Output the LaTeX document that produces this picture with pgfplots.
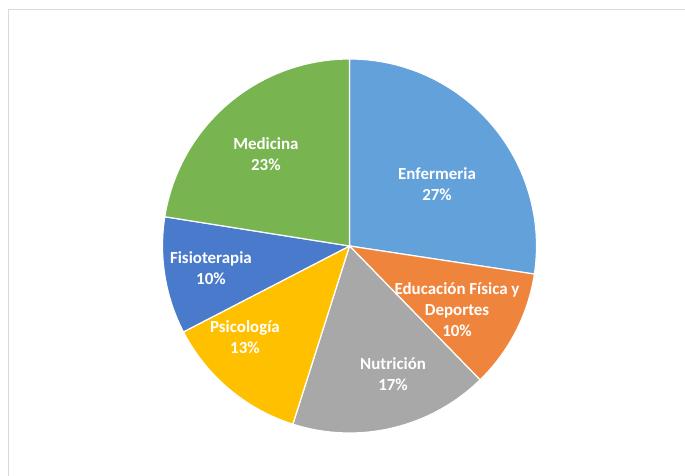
\documentclass[border=0pt]{standalone}
\usepackage{fontspec}
\setmainfont{Carlito}
\usepackage{pgfplots}
\pgfplotsset{compat=1.18}
\definecolor{cEnf}{HTML}{62A1D9}
\definecolor{cEdu}{HTML}{EF853C}
\definecolor{cNut}{HTML}{A8A8A8}
\definecolor{cPsi}{HTML}{FFC000}
\definecolor{cFis}{HTML}{4A7ACB}
\definecolor{cMed}{HTML}{78B44F}
\definecolor{frame}{HTML}{D9D9D9}
\tikzset{lbl/.style={font=\fontsize{17}{21}\selectfont\bfseries, text=white, align=center}}
% slice: cumulative start %, cumulative end %, colour (Excel: starts at 12 o'clock, clockwise)
\newcommand{\slice}[3]{%
  \addplot[fill=#3, draw=white, line width=1.2bp, samples=80, variable=\t,
    domain={90-3.6*(#2)}:{90-3.6*(#1)}] ({cos(t)},{sin(t)}) -- (axis cs:0,0) -- cycle;}
\begin{document}
\begin{tikzpicture}[x=1bp,y=1bp]
\useasboundingbox (0,0) rectangle (685,476);
\draw[frame, line width=1.5bp] (8.5,-5) -- (8.5,466.5) -- (690,466.5);
\begin{axis}[x=187bp, y=187bp, hide axis, xmin=-1, xmax=1, ymin=-1, ymax=1,
  clip=false, anchor=origin, at={(349.5bp,230bp)}]
% values (%): Enfermeria 27.4, Educacion 10.3, Nutricion 17.2, Psicologia 12.5, Fisioterapia 10.1, Medicina 22.5
\slice{0}{27.4}{cEnf}
\slice{27.4}{37.7}{cEdu}
\slice{37.7}{54.9}{cNut}
\slice{54.9}{67.4}{cPsi}
\slice{67.4}{77.5}{cFis}
\slice{77.5}{100}{cMed}
\node[lbl] at (axis cs:0.468,0.329) {Enfermeria\\27\%};
\node[lbl] at (axis cs:0.575,-0.342) {Educación Física y\\Deportes\\10\%};
\node[lbl] at (axis cs:0.233,-0.687) {Nutrición\\17\%};
\node[lbl] at (axis cs:-0.559,-0.489) {Psicología\\13\%};
\node[lbl] at (axis cs:-0.741,-0.120) {Fisioterapia\\10\%};
\node[lbl] at (axis cs:-0.447,0.489) {Medicina\\23\%};
\end{axis}
\end{tikzpicture}
\end{document}
